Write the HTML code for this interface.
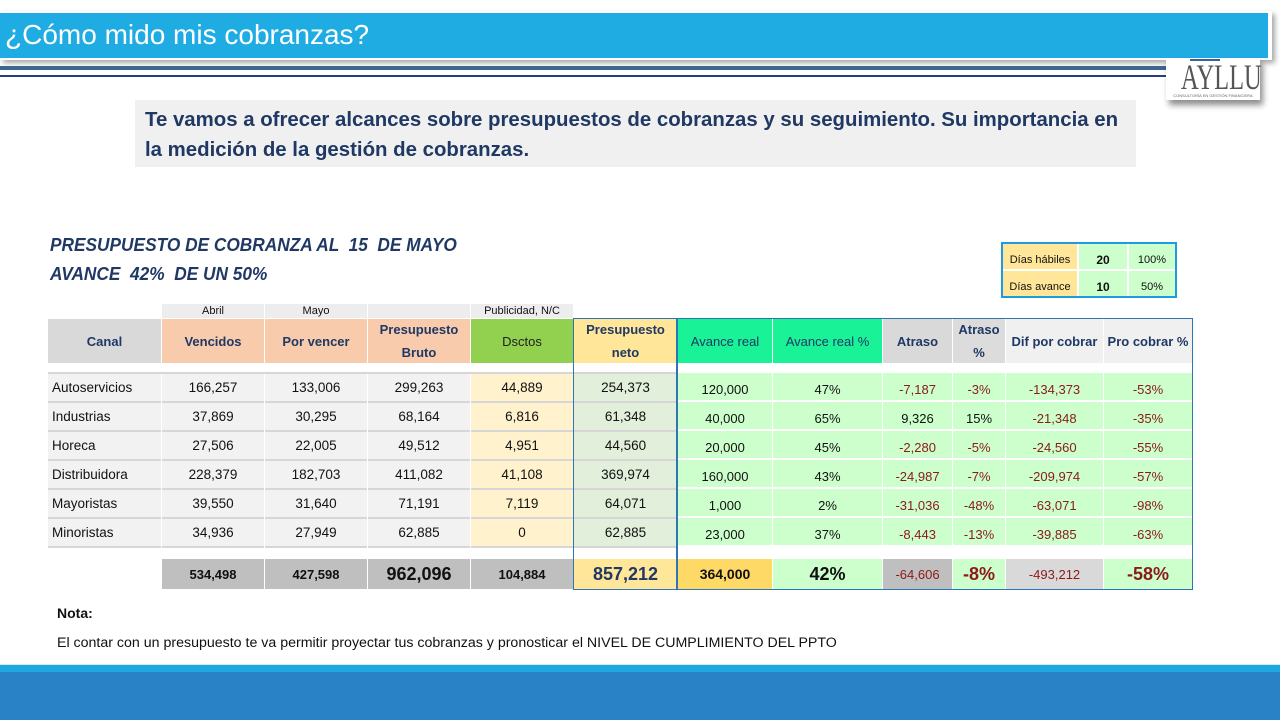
<!DOCTYPE html>
<html><head><meta charset="utf-8">
<style>
*{margin:0;padding:0;box-sizing:border-box}
body{width:1280px;height:720px;overflow:hidden;background:#fff;font-family:"Liberation Sans",sans-serif;position:relative;color:#111}
.a{position:absolute}
.row{position:absolute;display:grid;column-gap:1px}
.L{left:48px;grid-template-columns:113px 102px 102px 102px 102px 103px}
.R{left:678px;grid-template-columns:94px 109px 69px 52px 97px 88px}
.row>div{display:flex;align-items:center;justify-content:center;white-space:nowrap;font-size:13.5px}
.hd>div{font-weight:bold;color:#1F3864;font-size:13px;text-align:center;line-height:23px;height:44px}
.ld>div{height:29px;background:#F2F2F2;border-bottom:2px solid #D6D6D6}
.ld>div:first-child{justify-content:flex-start;padding-left:4px}
.ld>div:nth-child(5){background:#FFF2CC}
.ld>div:nth-child(6){background:#E2EFDA}
.rd>div{height:27px;background:#CCFFCC;padding-top:6px;font-size:13px}
.r{color:#8B1A1A}
.tot>div{height:30px;font-weight:bold;font-size:13px}
.dc{position:absolute;display:flex;align-items:center;justify-content:center;padding-top:6px;font-size:11px}
</style></head><body>

<!-- title bar -->
<div class="a" style="left:0;top:11px;width:1272px;height:49px;background:#fff;box-shadow:3px 3px 5px rgba(0,0,0,.35)"></div>
<div class="a" style="left:0;top:13px;width:1268px;height:45px;background:#1FACE3"></div>
<div class="a" style="left:5px;top:17px;font-size:28px;color:#fff;white-space:nowrap;line-height:36px">¿Cómo mido mis cobranzas?</div>
<div class="a" style="left:0;top:66px;width:1170px;height:4px;background:#3B6690"></div>
<div class="a" style="left:0;top:75px;width:1170px;height:2px;background:#24407A"></div>

<!-- logo -->
<div class="a" style="left:1166px;top:58px;width:94px;height:42px;background:#fff;box-shadow:3px 5px 6px rgba(0,0,0,.45)"></div>
<div class="a" style="left:1190px;top:59px;width:30px;height:2px;background:#3a5f9a"></div>
<div class="a" style="left:1166px;top:59px;width:94px;text-align:center;font-family:'Liberation Serif',serif;font-size:36px;line-height:36px;color:#555;transform:scaleX(0.68);">AYLLU</div>
<div class="a" style="left:1166px;top:93px;width:94px;text-align:center;font-size:4px;color:#666;white-space:nowrap">CONSULTORÍA EN GESTIÓN FINANCIERA</div>

<!-- intro -->
<div class="a" style="left:135px;top:100px;width:1001px;height:67px;background:#F0F0F0"></div>
<div class="a" style="left:145px;top:105px;font-size:20.4px;font-weight:bold;color:#1F3864;line-height:30px;white-space:nowrap">Te vamos a ofrecer alcances sobre presupuestos de cobranzas y su seguimiento. Su importancia en<br>la medición de la gestión de cobranzas.</div>

<!-- headings -->
<div class="a" style="left:50px;top:233px;font-size:18px;font-weight:bold;font-style:italic;color:#1F3864;line-height:24px;white-space:pre;transform:scaleX(0.96);transform-origin:left">PRESUPUESTO DE COBRANZA AL  15  DE MAYO</div>
<div class="a" style="left:50px;top:262px;font-size:18px;font-weight:bold;font-style:italic;color:#1F3864;line-height:24px;white-space:pre;transform:scaleX(0.96);transform-origin:left">AVANCE  42%  DE UN 50%</div>

<!-- dias box -->
<div class="a" style="left:1001px;top:242px;width:176px;height:56px;border:2px solid #1E9AE0;background:#fff"></div>
<div class="dc" style="left:1003px;top:244px;width:74px;height:25px;background:#FFE699">Días hábiles</div>
<div class="dc" style="left:1079px;top:244px;width:48px;height:25px;background:#CCFFCC;font-size:12px;font-weight:bold">20</div>
<div class="dc" style="left:1129px;top:244px;width:46px;height:25px;background:#CCFFCC">100%</div>
<div class="dc" style="left:1003px;top:271px;width:74px;height:25px;background:#FFE699">Días avance</div>
<div class="dc" style="left:1079px;top:271px;width:48px;height:25px;background:#CCFFCC;font-size:12px;font-weight:bold">10</div>
<div class="dc" style="left:1129px;top:271px;width:46px;height:25px;background:#CCFFCC">50%</div>

<!-- label row -->
<div class="row L" style="top:304px">
<div style="height:14px"></div>
<div style="height:14px;background:#EDEDED;font-size:11px">Abril</div>
<div style="height:14px;background:#EDEDED;font-size:11px">Mayo</div>
<div style="height:14px;background:#EDEDED"></div>
<div style="height:14px;background:#EDEDED;font-size:11px">Publicidad, N/C</div>
<div style="height:14px"></div>
</div>

<!-- header row -->
<div class="row L hd" style="top:319px">
<div style="background:#D9D9D9">Canal</div>
<div style="background:#F8CBAD">Vencidos</div>
<div style="background:#F8CBAD">Por vencer</div>
<div style="background:#F8CBAD">Presupuesto<br>Bruto</div>
<div style="background:#92D050;font-weight:normal;color:#222">Dsctos</div>
<div style="background:#FFE699">Presupuesto<br>neto</div>
</div>
<div class="row R hd" style="top:319px">
<div style="background:#19F296;font-weight:normal;color:#1F3864">Avance real</div>
<div style="background:#19F296;font-weight:normal;color:#1F3864">Avance real %</div>
<div style="background:#D9D9D9">Atraso</div>
<div style="background:#DCDCDC">Atraso<br>%</div>
<div style="background:#F0F0F0">Dif por cobrar</div>
<div style="background:#F0F0F0">Pro cobrar %</div>
</div>

<!-- left data -->
<div class="a" style="left:48px;top:372px;width:629px;height:2px;background:#D6D6D6"></div>
<div class="row L ld" style="top:374px"><div>Autoservicios</div><div>166,257</div><div>133,006</div><div>299,263</div><div>44,889</div><div>254,373</div></div>
<div class="row L ld" style="top:403px"><div>Industrias</div><div>37,869</div><div>30,295</div><div>68,164</div><div>6,816</div><div>61,348</div></div>
<div class="row L ld" style="top:432px"><div>Horeca</div><div>27,506</div><div>22,005</div><div>49,512</div><div>4,951</div><div>44,560</div></div>
<div class="row L ld" style="top:461px"><div>Distribuidora</div><div>228,379</div><div>182,703</div><div>411,082</div><div>41,108</div><div>369,974</div></div>
<div class="row L ld" style="top:490px"><div>Mayoristas</div><div>39,550</div><div>31,640</div><div>71,191</div><div>7,119</div><div>64,071</div></div>
<div class="row L ld" style="top:519px"><div>Minoristas</div><div>34,936</div><div>27,949</div><div>62,885</div><div>0</div><div>62,885</div></div>

<!-- right data -->
<div class="row R rd" style="top:373px"><div>120,000</div><div>47%</div><div class="r">-7,187</div><div class="r">-3%</div><div class="r">-134,373</div><div class="r">-53%</div></div>
<div class="row R rd" style="top:402px"><div>40,000</div><div>65%</div><div>9,326</div><div>15%</div><div class="r">-21,348</div><div class="r">-35%</div></div>
<div class="row R rd" style="top:431px"><div>20,000</div><div>45%</div><div class="r">-2,280</div><div class="r">-5%</div><div class="r">-24,560</div><div class="r">-55%</div></div>
<div class="row R rd" style="top:460px"><div>160,000</div><div>43%</div><div class="r">-24,987</div><div class="r">-7%</div><div class="r">-209,974</div><div class="r">-57%</div></div>
<div class="row R rd" style="top:489px"><div>1,000</div><div>2%</div><div class="r">-31,036</div><div class="r">-48%</div><div class="r">-63,071</div><div class="r">-98%</div></div>
<div class="row R rd" style="top:518px"><div>23,000</div><div>37%</div><div class="r">-8,443</div><div class="r">-13%</div><div class="r">-39,885</div><div class="r">-63%</div></div>

<!-- totals -->
<div class="row L tot" style="top:559px">
<div></div>
<div style="background:#BFBFBF">534,498</div>
<div style="background:#BFBFBF">427,598</div>
<div style="background:#BFBFBF;font-size:18px">962,096</div>
<div style="background:#BFBFBF">104,884</div>
<div style="background:#FFE699;font-size:18px;color:#1F3864">857,212</div>
</div>
<div class="row R tot" style="top:559px">
<div style="background:#FFD966;font-size:14px">364,000</div>
<div style="background:#CCFFCC;font-size:18px">42%</div>
<div style="background:#BFBFBF;font-weight:normal" class="r">-64,606</div>
<div style="background:#CCFFCC;font-size:18px" class="r">-8%</div>
<div style="background:#D9D9D9;font-weight:normal" class="r">-493,212</div>
<div style="background:#CCFFCC;font-size:18px" class="r">-58%</div>
</div>

<!-- blue borders -->
<div class="a" style="left:573px;top:318px;width:620px;height:272px;border:1.5px solid #2E75B6"></div>
<div class="a" style="left:676px;top:318px;width:2px;height:272px;background:#2E75B6"></div>

<!-- nota -->
<div class="a" style="left:57px;top:605px;font-size:14px;font-weight:bold;line-height:16px">Nota:</div>
<div class="a" style="left:57px;top:635px;font-size:14.2px;line-height:16px;white-space:nowrap">El contar con un presupuesto te va permitir proyectar tus cobranzas y pronosticar el NIVEL DE CUMPLIMIENTO DEL PPTO</div>

<!-- bottom band -->
<div class="a" style="left:0;top:664px;width:1280px;height:1px;background:#CDEFFA"></div>
<div class="a" style="left:0;top:665px;width:1280px;height:7px;background:#1FA7E1"></div>
<div class="a" style="left:0;top:672px;width:1280px;height:48px;background:#2882C5"></div>
</body></html>
